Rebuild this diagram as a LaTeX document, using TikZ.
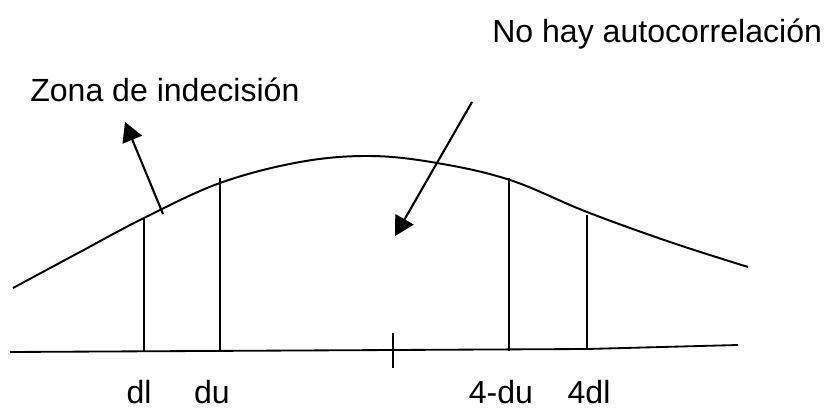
\documentclass[tikz,border=0pt]{standalone}
\usepackage{fontspec}
\setmainfont{Liberation Sans}
\usetikzlibrary{positioning,arrows.meta}

\begin{document}
\begin{tikzpicture}[
  x=0.025cm, y=-0.025cm,
  >={Triangle[length=4.8mm,width=5.2mm]},
  curve/.style={line width=1.4pt},
  mark line/.style={line width=1.3pt},
  pointer/.style={->,line width=1.5pt},
  label/.style={font=\fontsize{22.8}{27}\selectfont,inner sep=0pt,anchor=base}
]
  \useasboundingbox (0,0) rectangle (824,411);

  % distribution curve and axis
  \draw[curve] plot[smooth,tension=0.6] coordinates {(13,288) (80,252) (144,218) (220,183)
    (300,162) (370,156) (437,163) (510,180) (587,212) (670,242) (748,267)};
  \coordinate (axisleft) at (10,352);
  \coordinate (axisbend) at (587,349);
  \coordinate (axisright) at (738,345);
  \draw[mark line] (axisleft) -- (axisbend) -- (axisright);

  % critical values
  \coordinate (dltop) at (144,218);   \coordinate (dlfoot) at (144,352);
  \coordinate (dutop) at (220,178);   \coordinate (dufoot) at (220,352);
  \coordinate (udutop) at (509,178);  \coordinate (udufoot) at (509,351);
  \coordinate (udltop) at (587,215);  \coordinate (udlfoot) at (587,349);
  \coordinate (midtop) at (393,333);  \coordinate (midfoot) at (393,368);
  \draw[mark line] (dltop) -- (dlfoot);
  \draw[mark line] (dutop) -- (dufoot);
  \draw[mark line] (udutop) -- (udufoot);
  \draw[mark line] (udltop) -- (udlfoot);
  \draw[mark line] (midtop) -- (midfoot);

  \node[label] (dl) at (139,404) {dl};
  \node[label] (du) at (212,404) {du};
  \node[label] (udu) at (501,404) {4-du};
  \node[label] (udl) at (589,404) {4dl};

  % zones
  \node[label,anchor=base west] (zona) at (30,102) {Zona de indecisión};
  \node[label,anchor=base west] (nohay) at (492,43) {No hay autocorrelación};
  \coordinate (zonafrom) at (163,214);
  \coordinate (zonato) at (125,122);
  \coordinate (nohayfrom) at (472,102);
  \coordinate (nohayto) at (395,236);
  \draw[pointer] (zonafrom) -- (zonato);
  \draw[pointer] (nohayfrom) -- (nohayto);
\end{tikzpicture}
\end{document}
